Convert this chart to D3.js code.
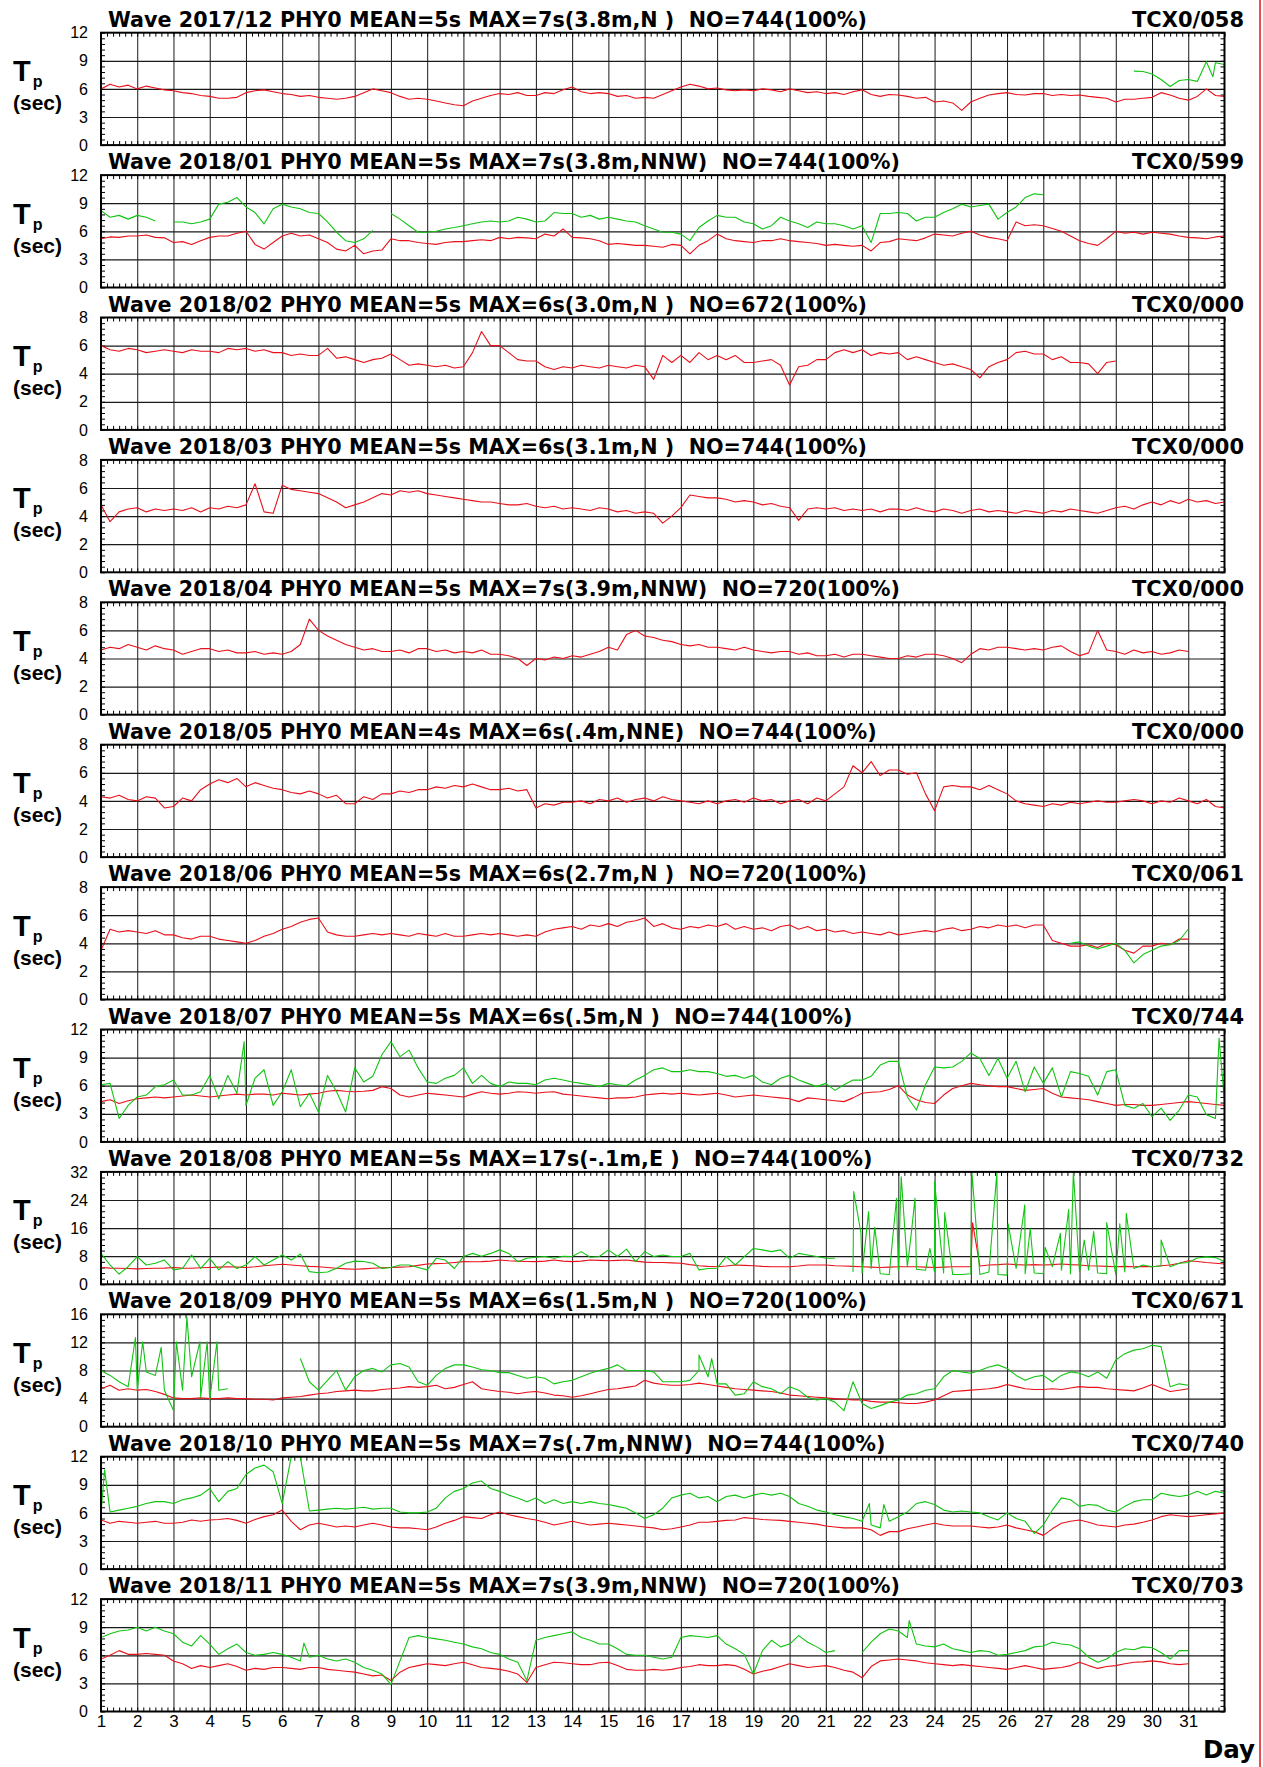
<!DOCTYPE html>
<html><head><meta charset="utf-8">
<script src="https://cdn.jsdelivr.net/npm/d3@7"></script>
<style>body{margin:0;background:#fff}svg{display:block}</style>
</head><body>
<svg id="c" width="1263" height="1767"></svg>
<script>
// ---------------- DATA ----------------
const titles = [
 "Wave 2017/12 PHY0 MEAN=5s MAX=7s(3.8m,N )  NO=744(100%)",
 "Wave 2018/01 PHY0 MEAN=5s MAX=7s(3.8m,NNW)  NO=744(100%)",
 "Wave 2018/02 PHY0 MEAN=5s MAX=6s(3.0m,N )  NO=672(100%)",
 "Wave 2018/03 PHY0 MEAN=5s MAX=6s(3.1m,N )  NO=744(100%)",
 "Wave 2018/04 PHY0 MEAN=5s MAX=7s(3.9m,NNW)  NO=720(100%)",
 "Wave 2018/05 PHY0 MEAN=4s MAX=6s(.4m,NNE)  NO=744(100%)",
 "Wave 2018/06 PHY0 MEAN=5s MAX=6s(2.7m,N )  NO=720(100%)",
 "Wave 2018/07 PHY0 MEAN=5s MAX=6s(.5m,N )  NO=744(100%)",
 "Wave 2018/08 PHY0 MEAN=5s MAX=17s(-.1m,E )  NO=744(100%)",
 "Wave 2018/09 PHY0 MEAN=5s MAX=6s(1.5m,N )  NO=720(100%)",
 "Wave 2018/10 PHY0 MEAN=5s MAX=7s(.7m,NNW)  NO=744(100%)",
 "Wave 2018/11 PHY0 MEAN=5s MAX=7s(3.9m,NNW)  NO=720(100%)"
];
const tcxLabels = ["TCX0/058","TCX0/599","TCX0/000","TCX0/000","TCX0/000","TCX0/000",
                   "TCX0/061","TCX0/744","TCX0/732","TCX0/671","TCX0/740","TCX0/703"];
const yTicks = [
 [0,3,6,9,12],[0,3,6,9,12],[0,2,4,6,8],[0,2,4,6,8],[0,2,4,6,8],[0,2,4,6,8],
 [0,2,4,6,8],[0,3,6,9,12],[0,8,16,24,32],[0,4,8,12,16],[0,3,6,9,12],[0,3,6,9,12]
];
const dayLabels = [1,2,3,4,5,6,7,8,9,10,11,12,13,14,15,16,17,18,19,20,21,22,23,24,25,26,27,28,29,30,31];
const stepDays = 0.25; // one value every 6 hours

// Red = Tp series (one value per 6 h, starting day 1 00h)
const red1712 = [
6.0,6.5,6.2,6.4, 6.0,6.3,6.1,5.9, 5.8,5.6,5.5,5.3, 5.2,5.0,5.0,5.1, 5.6,5.8,5.9,5.7,
5.5,5.4,5.2,5.3, 5.1,5.0,4.9,5.0, 5.2,5.6,6.0,5.8, 5.6,5.2,4.9,5.0, 4.9,4.7,4.5,4.3,
4.2,4.7,5.0,5.3, 5.5,5.4,5.6,5.3, 5.3,5.6,5.5,5.9, 6.2,5.7,5.5,5.6, 5.5,5.2,5.3,5.0,
5.1,5.0,5.4,5.8, 6.2,6.5,6.3,6.0, 6.1,5.9,5.8,5.9, 5.8,6.0,5.9,5.7, 6.0,5.8,5.6,5.7,
5.5,5.6,5.4,5.7, 5.9,5.4,5.2,5.4, 5.35,5.2,5.0,5.1, 4.6,4.7,4.5,3.7, 4.6,5.0,5.35,5.5,
5.6,5.4,5.35,5.5, 5.5,5.3,5.4,5.3, 5.35,5.2,5.1,5.0, 4.6,4.9,4.9,5.0, 5.1,5.6,5.35,5.0,
4.8,5.2,6.0,5.3, 5.2];
const red1801 = [
5.2,5.4,5.35,5.5, 5.5,5.6,5.35,5.3, 4.8,4.9,4.6,5.0, 5.35,5.5,5.5,5.8, 6.0,4.6,4.1,4.8,
5.5,5.8,5.5,5.6, 5.2,4.8,4.1,3.9, 4.5,3.6,3.9,4.0, 5.2,5.0,5.0,4.8, 4.7,4.6,4.8,4.9,
4.9,5.0,5.1,5.0, 5.35,5.2,5.35,5.3, 5.2,5.7,5.5,6.25, 5.35,5.3,5.2,5.0, 4.6,4.7,4.6,4.5,
4.5,4.4,4.3,4.6, 4.5,3.6,4.5,5.0, 5.7,5.2,5.0,4.9, 4.8,5.0,5.0,5.2, 5.0,4.9,4.8,4.7,
4.5,4.6,4.5,4.4, 4.5,3.9,4.8,4.9, 5.2,5.1,5.0,5.3, 5.7,5.6,5.5,5.8, 6.0,5.6,5.35,5.2,
5.0,7.0,6.6,6.7, 6.6,6.3,6.0,5.5, 5.0,4.7,4.5,5.2, 6.0,5.8,5.9,5.7, 5.9,5.8,5.7,5.5,
5.35,5.3,5.2,5.4, 5.5];
const red1802 = [
6.0,5.7,5.6,5.8, 5.7,5.5,5.6,5.7, 5.6,5.5,5.7,5.6, 5.6,5.5,5.8,5.7, 5.8,5.6,5.7,5.5,
5.5,5.3,5.4,5.3, 5.3,5.8,5.1,5.2, 5.0,4.8,5.0,5.1, 5.4,5.0,4.6,4.7, 4.6,4.5,4.6,4.4,
4.5,5.5,7.0,6.0, 6.0,5.5,5.0,4.9, 4.9,4.5,4.3,4.5, 4.4,4.6,4.5,4.4, 4.6,4.5,4.4,4.6,
4.5,3.6,5.3,4.8, 5.3,4.8,5.5,5.0, 5.3,5.0,5.3,4.8, 4.8,4.9,5.0,4.6, 3.2,4.5,4.6,5.0,
5.0,5.5,5.7,5.5, 5.7,5.3,5.5,5.4, 5.5,5.0,5.2,5.0, 4.8,4.6,4.7,4.5, 4.3,3.7,4.5,4.8,
5.0,5.5,5.6,5.4, 5.4,5.0,5.2,4.8, 4.8,4.7,4.0,4.8, 4.9];
const red1803 = [
4.8,3.6,4.3,4.5, 4.6,4.3,4.5,4.4, 4.5,4.4,4.6,4.3, 4.6,4.5,4.7,4.6, 4.8,6.3,4.3,4.2,
6.2,5.9,5.8,5.7, 5.6,5.3,5.0,4.6, 4.8,5.0,5.3,5.6, 5.5,5.8,5.7,5.8, 5.6,5.5,5.4,5.3,
5.2,5.1,5.0,5.0, 4.9,4.8,4.8,4.9, 4.7,4.6,4.7,4.5, 4.6,4.5,4.4,4.6, 4.5,4.3,4.4,4.2,
4.3,4.2,3.5,4.0, 4.6,5.5,5.4,5.3, 5.3,5.2,5.0,5.1, 5.0,4.8,4.9,4.7, 4.6,3.7,4.5,4.6,
4.5,4.6,4.4,4.5, 4.4,4.5,4.3,4.5, 4.5,4.4,4.6,4.4, 4.3,4.5,4.4,4.2, 4.4,4.5,4.3,4.4,
4.3,4.2,4.4,4.3, 4.2,4.4,4.3,4.5, 4.4,4.3,4.2,4.4, 4.6,4.7,4.5,4.8, 5.0,4.8,5.1,4.9,
5.2,5.0,5.1,4.9, 5.0];
const red1804 = [
4.6,4.8,4.7,5.0, 4.8,4.6,4.9,4.7, 4.6,4.3,4.5,4.7, 4.7,4.5,4.6,4.4, 4.4,4.5,4.3,4.4,
4.3,4.5,5.0,6.8, 6.0,5.6,5.3,5.0, 4.8,4.6,4.7,4.5, 4.5,4.6,4.4,4.7, 4.7,4.5,4.6,4.4,
4.5,4.4,4.6,4.3, 4.3,4.2,4.0,3.5, 4.0,3.9,4.1,4.0, 4.2,4.1,4.3,4.5, 4.8,4.6,5.7,6.0,
5.6,5.5,5.3,5.2, 5.0,4.9,5.0,4.8, 4.8,4.7,4.6,4.8, 4.6,4.5,4.4,4.5, 4.5,4.3,4.4,4.2,
4.2,4.3,4.1,4.3, 4.3,4.2,4.1,4.0, 4.0,4.2,4.1,4.3, 4.3,4.2,4.0,3.7, 4.3,4.7,4.6,4.8,
4.8,4.7,4.6,4.7, 4.6,4.8,4.9,4.5, 4.2,4.4,6.0,4.6, 4.5,4.3,4.6,4.4, 4.5,4.3,4.4,4.6,
4.5];
const red1805 = [
4.3,4.2,4.4,4.1, 4.0,4.3,4.2,3.5, 3.6,4.2,4.0,4.8, 5.2,5.5,5.3,5.6, 5.0,5.3,5.1,4.9,
4.8,4.6,4.5,4.7, 4.5,4.2,4.4,3.8, 3.8,4.3,4.1,4.5, 4.5,4.7,4.6,4.8, 4.8,5.0,4.9,5.1,
5.0,5.2,5.0,4.8, 4.8,4.9,4.7,4.8, 3.5,3.8,3.7,3.9, 3.9,4.0,3.8,4.1, 4.0,4.2,3.9,4.1,
4.2,4.0,4.3,4.1, 4.0,3.9,3.8,4.0, 3.8,4.0,4.1,3.9, 4.2,4.0,4.1,3.8, 4.0,4.1,3.8,4.2,
4.0,4.5,5.0,6.5, 6.0,6.8,5.8,6.2, 6.2,5.9,6.0,4.5, 3.3,5.0,5.1,5.0, 5.0,4.8,5.1,4.8,
4.5,4.0,3.8,3.7, 3.6,3.8,3.7,3.9, 3.8,3.9,4.0,3.9, 3.9,4.0,4.1,4.0, 3.8,4.0,3.9,4.2,
4.0,3.8,4.1,3.6, 3.5];
const red1806 = [
3.5,5.0,4.8,4.9, 4.8,4.7,4.9,4.6, 4.6,4.4,4.3,4.5, 4.5,4.3,4.2,4.1, 4.0,4.2,4.5,4.7,
5.0,5.2,5.5,5.7, 5.8,4.8,4.6,4.5, 4.5,4.6,4.7,4.6, 4.7,4.6,4.5,4.7, 4.6,4.5,4.7,4.5,
4.5,4.6,4.7,4.6, 4.7,4.6,4.5,4.6, 4.5,4.8,5.0,5.1, 5.2,5.0,5.3,5.2, 5.4,5.2,5.5,5.6,
5.8,5.2,5.4,5.1, 5.0,5.2,5.1,5.3, 5.2,5.4,5.0,5.2, 5.0,5.1,4.9,5.2, 5.3,5.0,5.2,4.9,
5.0,4.8,4.9,4.7, 4.8,4.7,4.6,4.8, 4.6,4.7,4.8,4.9, 4.8,5.0,5.1,4.9, 5.0,5.2,5.1,5.3,
5.2,5.3,5.1,5.3, 5.3,4.2,4.0,3.8, 3.8,3.9,3.7,4.0, 3.9,3.5,3.3,3.8, 3.8,4.0,3.9,4.3,
4.3];
const red1807 = [
4.3,4.5,4.1,4.4, 4.6,4.7,4.8,4.7, 4.8,4.9,5.0,4.9, 4.8,4.9,5.0,5.1, 5.0,5.1,5.1,5.0,
5.2,5.1,5.0,5.1, 5.2,5.4,5.5,5.4, 5.35,5.4,5.5,5.9, 5.7,5.0,4.8,5.0, 5.2,5.1,5.0,4.9,
4.8,5.1,5.35,5.2, 5.1,5.2,5.35,5.3, 5.2,5.3,5.35,5.1, 5.0,4.9,4.8,4.7, 4.6,4.7,4.7,4.8,
5.0,5.1,5.2,5.1, 5.2,5.1,5.0,5.1, 5.2,5.0,4.8,4.9, 5.0,4.9,4.8,4.7, 4.6,4.3,4.7,4.6,
4.5,4.4,4.3,4.7, 5.2,5.3,5.35,5.6, 6.0,5.0,4.5,4.2, 4.1,5.0,5.7,6.0, 6.25,6.1,6.0,5.9,
5.9,5.7,5.5,5.6, 5.7,5.2,4.8,4.7, 4.6,4.5,4.3,4.1, 3.9,4.0,4.0,3.9, 3.9,4.0,4.1,4.2,
4.3,4.2,4.1,4.0, 3.9];
const red1808 = [
4.8,4.6,4.55,4.5, 4.4,4.5,4.55,4.6, 4.8,4.6,4.55,4.7, 4.8,4.9,5.0,4.9, 4.8,5.0,5.3,5.5,
5.7,5.5,5.3,5.1, 5.0,4.8,4.55,4.4, 4.3,4.4,4.55,4.7, 4.8,4.9,5.0,5.4, 5.8,5.9,6.0,6.2,
6.45,6.4,6.45,6.6, 6.9,6.7,6.6,6.5, 6.45,6.6,6.9,6.6, 6.45,6.6,6.9,6.8, 6.7,6.8,6.9,6.6,
6.3,6.2,6.2,6.1, 6.0,5.6,5.3,5.1, 5.0,5.2,5.5,5.4, 5.3,5.1,5.0,5.0, 5.0,5.2,5.5,5.5,
5.5,5.3,5.2,5.1, 5.0,4.9,4.8,4.9, 5.0,5.0,5.0,4.9, 4.8,4.9,5.0,5.0, 5.0,5.2,5.5,5.6,
5.8,5.6,5.5,5.6, 5.5,5.6,5.8,5.6, 5.5,5.3,5.2,5.1, 5.0,5.1,5.0,5.1, 5.0,5.3,5.5,6.0,
6.7,6.5,6.2,6.0, 5.8];
const red1809 = [
5.4,5.9,5.2,5.4, 5.2,5.3,5.0,4.6, 4.1,4.0,4.0,4.1, 4.0,4.0,4.1,4.0, 4.0,3.9,3.9,3.8,
4.1,4.2,4.3,4.5, 4.7,4.8,5.0,5.1, 5.2,5.1,5.1,5.3, 5.4,5.5,5.7,5.6, 5.7,5.9,5.4,5.6,
6.0,6.4,5.4,5.2, 5.0,4.9,4.7,4.9, 5.0,4.8,4.5,4.4, 4.2,4.4,4.7,5.0, 5.3,5.4,5.6,5.8,
6.6,6.2,6.0,5.9, 5.9,6.0,6.2,6.0, 5.8,5.6,5.4,5.3, 5.2,5.1,5.0,4.8, 4.5,4.4,4.3,4.2,
4.1,4.0,3.9,3.8, 3.8,3.6,3.5,3.5, 3.4,3.3,3.3,3.5, 3.8,4.4,5.0,5.1, 5.2,5.3,5.4,5.6,
6.0,5.7,5.4,5.3, 5.3,5.4,5.3,5.5, 5.7,5.6,5.6,5.4, 5.3,5.2,5.1,5.5, 6.0,5.5,5.0,5.2,
5.4];
const red1810 = [
5.25,4.9,5.1,5.0, 4.9,5.0,5.1,4.9, 4.9,5.0,5.25,5.1, 5.25,5.3,5.4,5.2, 4.9,5.3,5.6,5.8,
6.3,5.1,4.2,4.7, 4.9,4.7,4.5,4.6, 4.5,4.7,4.9,4.7, 4.5,4.4,4.4,4.3, 4.2,4.5,4.9,5.2,
5.6,5.5,5.4,5.8, 6.1,5.8,5.6,5.4, 5.25,5.0,4.7,4.9, 5.1,4.9,4.7,4.8, 4.9,4.8,4.7,4.6,
4.5,4.4,4.2,4.3, 4.5,4.7,5.0,5.0, 5.1,5.2,5.25,5.5, 5.4,5.3,5.25,5.2, 5.1,5.0,4.9,4.8,
4.6,4.5,4.4,4.4, 4.4,4.2,3.6,4.0, 4.0,4.3,4.5,4.7, 4.9,4.7,4.6,4.6, 4.6,4.5,4.4,4.5,
4.7,4.4,4.2,4.0, 3.6,4.3,4.9,5.1, 5.25,5.0,4.7,4.6, 4.5,4.7,4.8,5.0, 5.25,5.6,5.8,5.7,
5.6,5.7,5.8,5.9, 6.0];
const red1811 = [
5.6,6.0,6.5,6.1, 6.1,6.2,6.1,6.0, 5.4,5.1,4.6,4.9, 4.7,4.9,5.1,4.8, 4.4,4.6,4.5,4.7,
4.7,4.6,4.5,4.7, 4.7,4.5,4.4,4.3, 4.2,4.0,3.8,3.9, 3.3,4.2,4.7,4.9, 5.1,5.0,4.9,5.1,
5.25,5.0,4.7,4.6, 4.5,4.3,4.0,3.1, 4.7,5.0,5.25,5.2, 5.1,5.0,5.0,5.2, 5.25,4.9,4.5,4.4,
4.4,4.5,4.4,4.5, 4.7,4.8,5.0,4.9, 4.9,5.0,4.9,4.5, 4.0,4.3,4.5,4.8, 5.1,4.9,4.7,4.8,
4.9,4.7,4.4,4.2, 3.6,4.8,5.4,5.5, 5.6,5.5,5.4,5.2, 5.1,5.0,4.9,5.0, 4.9,4.8,4.7,4.6,
4.5,4.7,4.9,4.7, 4.5,4.6,4.7,4.9, 5.25,4.9,4.6,4.8, 4.9,5.1,5.25,5.3, 5.4,5.3,5.1,5.0,
5.1];

// Green = second Tp series (null = no data)
const green1712 = [7.9,7.85,7.6,7.0,6.25,6.9,7.0,6.8,8.9,8.8,8.6];
const green1801 = [
8.2,7.5,7.7,7.3, 7.7,7.5,7.1,null, 7.0,7.0,6.8,7.0, 7.3,8.9,9.1,9.6, 8.6,8.0,6.8,8.4,
8.9,8.6,8.4,8.0, 7.9,7.0,5.9,5.0, 4.8,5.2,6.1,null, 7.9,7.3,6.6,5.9, 5.9,6.0,6.25,6.4,
6.6,6.8,7.0,7.1, 7.0,7.1,7.5,7.3, 7.0,7.1,8.0,7.9, 7.9,7.5,7.7,7.3, 7.5,7.3,7.1,7.0,
6.6,6.25,5.9,5.9, 5.7,5.0,6.4,7.1, 7.7,7.5,7.5,7.0, 6.8,6.25,6.6,7.5, 7.1,6.8,6.4,7.0,
6.8,6.8,6.6,6.25, 6.6,4.8,7.9,7.9, 8.0,7.9,7.1,7.5, 7.5,8.0,8.4,8.9, 8.6,8.75,8.9,7.3,
8.0,8.6,9.6,10.0, 9.9];
const green1806 = [4.0,4.1,3.8,3.6,3.8,4.0,3.5,2.6,3.2,3.5,3.8,3.9,4.2,5.0];
const green1807 = [
6.1,6.25,2.5,3.9, 4.8,5.0,5.9,6.1, 6.6,5.0,5.0,5.35, 7.1,4.6,7.1,5.2, 3.9,6.8,7.7,3.9,
5.35,7.7,3.75,5.2, 3.2,7.1,5.35,3.2, 7.9,6.4,7.0,9.3, 10.7,9.1,9.8,7.9, 6.4,6.25,6.8,7.1,
7.9,6.25,7.1,6.25, 5.9,6.4,6.25,6.25, 6.1,6.6,6.8,6.6, 6.4,6.25,6.1,5.9, 6.25,6.1,6.0,6.6,
7.1,7.7,7.9,7.5, 7.5,7.7,7.5,7.5, 7.3,7.0,7.1,6.8, 7.1,6.4,6.1,6.8, 7.1,6.6,6.25,5.9,
6.25,5.5,6.1,6.6, 6.6,7.0,8.2,8.6, 8.6,4.8,3.4,6.1, 8.0,7.9,8.0,8.6, 9.5,8.9,7.1,8.9,
6.8,8.6,5.35,8.0, 6.25,7.9,4.8,7.5, 7.3,7.0,5.0,7.5, 7.7,3.9,3.6,4.1, 2.7,3.6,2.3,3.4,
5.0,4.8,2.9,2.5, 4.3];
const green1808 = [
8.8,5.5,2.9,5.0, 7.9,5.5,6.0,6.9, 4.1,4.5,8.35,4.55, 7.4,4.1,6.45,4.5, 5.5,7.9,5.5,6.9,
8.35,6.9,8.6,3.6, 3.3,3.5,4.55,6.0, 6.6,6.5,6.0,4.5, 4.8,5.5,5.5,4.8, 4.1,7.4,6.9,4.5,
7.9,8.8,8.0,8.8, 9.8,8.8,6.45,7.4, 7.7,7.9,7.4,8.0, 7.9,9.3,7.7,7.9, 9.8,7.9,10.0,6.45,
9.3,7.9,8.35,7.9, 7.9,8.8,4.1,4.5, 4.55,7.9,5.5,7.9, 10.2,9.8,9.3,9.8, 7.4,8.8,8.35,7.9,
7.4,7.4,null,3.5, 3.2,4.5,3.0,2.8, 4.0,5.0,4.3,4.0, 3.5,3.2,2.8,2.8, 3.0,2.8,3.5,2.8,
2.6,4.5,3.0,3.2, 3.0,5.0,4.0,3.0, 3.5,4.0,3.2,3.0, 2.8,3.5,4.5,5.5, 5.0,5.2,5.0,6.0,
6.2,7.5,7.8,7.6, 6.5];
const green1809 = [
8.0,7.3,6.4,5.7, 5.2,7.8,7.3,5.2, 2.3,5.2,7.1,4.2, 3.8,5.2,5.4,null, null,null,null,null,
null,null,9.7,6.4, 5.2,6.6,8.0,5.2, 7.1,8.0,8.3,7.8, 8.8,9.0,8.5,6.4, 5.9,7.3,8.3,8.8,
8.8,8.5,8.1,8.0, 7.7,7.7,7.3,6.9, 7.1,6.9,6.1,6.4, 6.6,7.1,7.6,8.0, 8.3,8.8,8.0,8.0,
8.0,7.8,6.4,6.4, 6.4,6.6,8.0,7.1, 6.1,6.1,4.5,4.7, 6.4,5.7,5.4,4.7, 5.7,5.2,4.2,3.8,
4.0,3.5,2.3,6.4, 3.3,2.6,3.0,3.5, 3.8,4.5,4.7,5.2, 5.4,7.1,8.0,7.8, 7.6,8.0,8.5,8.8,
8.3,7.3,6.6,7.1, 7.3,6.4,7.3,7.8, 7.6,7.1,7.8,6.9, 9.5,10.4,10.9,11.1, 11.6,11.4,5.7,6.1,
5.9];
const green1810 = [
6.0,6.1,6.3,6.5, 6.7,7.0,7.2,7.2, 7.0,7.4,7.6,7.9, 8.6,7.2,8.3,8.6, 10.1,10.8,11.1,10.4,
7.0,12.0,12.0,6.2, 6.3,6.4,6.5,6.4, 6.5,6.6,6.4,6.5, 6.5,6.1,6.0,6.0, 6.1,6.5,7.6,8.3,
8.6,9.2,9.4,8.6, 8.3,7.9,7.6,7.2, 7.6,7.0,7.4,7.0, 7.2,7.0,7.2,7.0, 6.9,6.7,6.5,6.0,
5.4,5.8,6.5,7.6, 7.9,8.1,7.6,7.75, 7.2,7.75,7.9,7.6, 7.9,8.1,7.9,8.1, 7.75,7.0,6.7,6.3,
6.1,5.8,5.6,5.4, 5.1,4.7,4.4,5.1, 5.6,6.1,7.0,7.2, 6.9,6.3,6.1,6.2, 6.1,6.0,5.6,5.25,
6.0,5.4,5.1,3.8, 4.7,6.3,7.6,7.4, 6.7,6.9,6.8,6.3, 6.1,6.7,7.2,7.4, 7.4,8.1,7.9,7.75,
7.9,8.3,7.9,8.3, 8.1];
const green1811 = [
7.9,8.3,8.6,8.7, 9.0,8.6,9.0,8.6, 8.3,7.4,7.0,8.1, 7.2,6.1,6.7,7.2, 6.3,6.0,6.1,6.3,
6.1,5.8,5.4,5.8, 6.0,5.6,5.4,5.6, 5.25,4.7,4.4,4.0, 2.9,5.4,7.9,8.1, 7.9,7.75,7.6,7.4,
7.2,6.9,6.7,6.3, 6.1,5.6,5.25,3.3, 7.6,7.9,8.1,8.3, 8.5,7.9,7.6,7.2, 7.2,6.7,6.1,6.0,
6.0,5.8,5.6,5.8, 7.9,8.1,8.0,7.9, 8.1,7.2,6.7,6.1, 4.0,6.5,7.6,6.9, 7.2,8.1,7.4,6.9,
6.3,6.5,null,null, 6.3,7.4,8.3,8.8, 8.6,7.9,7.2,7.0, 6.9,7.2,6.7,6.5, 6.3,6.5,6.4,6.0,
6.1,6.3,6.5,6.9, 7.0,7.4,7.2,7.1, 6.7,5.8,5.25,5.6, 6.3,6.7,6.6,6.9, 6.8,6.3,5.6,6.5,
6.5];

// Short single-hour peaks: [day, value]
const spikes1712G = [[31.68, 7.3]];
const spikes1807G = [[4.95, 10.7], [31.85, 11.1]];
const spikes1808G = [[21.77,26.4],[21.97,14.5],[22.18,20.7],[22.35,16.2],[22.95,24.5],[23.08,30.6],
 [23.36,14.7],[23.46,24.5],[23.87,10.2],[24.0,29.2],[24.28,20.4],[25.03,32],[25.72,32],[26.03,17.2],
 [26.49,22.6],[26.64,15.9],[27.05,10.5],[27.47,14.5],[27.70,21.3],[27.83,32],[28.13,12.6],[28.39,15.0],
 [28.75,17.6],[29.11,17.2],[29.29,20.2],[30.25,12.6]];
const spikes1808R = [[25.05, 17.5]];
const spikes1809G = [[1.95,12.7],[2.15,12.1],[2.66,11.3],[3.08,12.1],[3.37,15.6],[3.73,12.1],[3.93,12.1],
 [4.2,12.1],[17.5,10.2],[17.85,9.7]];
const spikes1810G = [[1.1,10.6],[22.2,7.0],[22.6,6.9]];
const spikes1811G = [[23.3,9.7],[6.6,7.3]];

const redSeries   = [red1712,red1801,red1802,red1803,red1804,red1805,red1806,red1807,red1808,red1809,red1810,red1811];
const redSpikes   = [[],[],[],[],[],[],[],[],spikes1808R,[],[],[]];
const greenSeries = [green1712,green1801,null,null,null,null,green1806,green1807,green1808,green1809,green1810,green1811];
const greenStart  = [29.5,1,null,null,null,null,27.75,1,1,1,1,1];
const greenSpikes = [spikes1712G,[],[],[],[],[],[],spikes1807G,spikes1808G,spikes1809G,spikes1810G,spikes1811G];

// ---------------- DRAW ----------------
const FONT = "'Liberation Sans', Arial, Helvetica, sans-serif";
const TFONT = "'DejaVu Sans', Verdana, sans-serif";
const svg = d3.select("#c").style("font-family", FONT);
const L = 101, R = 1224.5, T0 = 32.7, GAP = 142.4, H = 112.4;
const x = d3.scaleLinear().domain([1, 32]).range([L, R]);
const minorX = d3.range(0, 31*6 + 1).map(k => 1 + k/6);
const dayGrid = dayLabels.slice(1);

function toPoints(values, start, spikes) {
  const pts = values.map((v, k) => [start + k*stepDays, v]);
  spikes.forEach(s => pts.push(s));
  pts.sort((a, b) => a[0] - b[0]);
  return pts;
}
function strip(sel) { sel.select(".domain").remove(); }

svg.append("rect").attr("width",1263).attr("height",1767).attr("fill","#fff");

titles.forEach((t, i) => {
  const top = T0 + i*GAP, bot = top + H;
  const ticks = yTicks[i];
  const ymax = ticks[ticks.length-1];
  const y = d3.scaleLinear().domain([0, ymax]).range([bot, top]);
  const minorStep = (ticks[1]-ticks[0]) / 5;
  const minorY = d3.range(0, 21).map(k => k*minorStep);
  const g = svg.append("g");

  // title + station
  g.append("text").attr("x",108).attr("y",top-6).attr("font-size",20.7).attr("font-weight","bold")
    .attr("font-family",TFONT).attr("xml:space","preserve").style("white-space","pre").text(t);
  g.append("text").attr("x",1244).attr("y",top-6).attr("font-size",21).attr("font-weight","bold")
    .attr("font-family",TFONT).attr("text-anchor","end").text(tcxLabels[i]);

  // y label Tp (sec) as one text element
  const yl = g.append("text").attr("x",13).attr("y",top+48.5).attr("font-weight","bold");
  yl.append("tspan").attr("font-size",29).text("T");
  yl.append("tspan").attr("font-size",16).attr("dx",2).attr("dy",6).text("p");
  yl.append("tspan").attr("font-size",21).attr("x",13).attr("dy",23).text("(sec)");

  // vertical day gridlines
  g.append("g").attr("transform",`translate(0,${bot})`)
    .call(d3.axisBottom(x).tickValues(dayGrid).tickSize(-H).tickFormat(""))
    .call(strip).selectAll("line").attr("stroke","#1a1a1a").attr("stroke-width",1);
  // horizontal gridlines
  g.append("g").attr("transform",`translate(${L},0)`)
    .call(d3.axisLeft(y).tickValues(ticks.slice(1,-1)).tickSize(-(R-L)).tickFormat(""))
    .call(strip).selectAll("line").attr("stroke","#1a1a1a").attr("stroke-width",1.2);

  // minor ticks (inward)
  g.append("g").attr("transform",`translate(0,${top})`)
    .call(d3.axisTop(x).tickValues(minorX).tickSize(-4).tickFormat("")).call(strip)
    .selectAll("line").attr("stroke","#000");
  g.append("g").attr("transform",`translate(0,${bot})`)
    .call(d3.axisBottom(x).tickValues(minorX).tickSize(-4).tickFormat("")).call(strip)
    .selectAll("line").attr("stroke","#000");
  g.append("g").attr("transform",`translate(${L},0)`)
    .call(d3.axisLeft(y).tickValues(minorY).tickSize(-4).tickFormat("")).call(strip)
    .selectAll("line").attr("stroke","#000");
  g.append("g").attr("transform",`translate(${R},0)`)
    .call(d3.axisRight(y).tickValues(minorY).tickSize(-4).tickFormat("")).call(strip)
    .selectAll("line").attr("stroke","#000");

  // y tick labels
  const ya = g.append("g").attr("transform",`translate(${L},0)`)
    .call(d3.axisLeft(y).tickValues(ticks).tickSize(0).tickPadding(13).tickFormat(d3.format("d")))
    .call(strip);
  ya.selectAll("text").attr("font-size",16).attr("font-family",FONT).attr("fill","#000");

  // clip
  svg.append("clipPath").attr("id","clip"+i).append("rect")
    .attr("x",L).attr("y",top).attr("width",R-L).attr("height",H);

  const line = d3.line().defined(d => d[1] !== null).x(d => x(d[0])).y(d => y(d[1]));
  const lines = g.append("g").attr("clip-path",`url(#clip${i})`);
  lines.append("path").datum(toPoints(redSeries[i], 1, redSpikes[i]))
    .attr("d", line).attr("fill","none").attr("stroke","#e8101a").attr("stroke-width",1.1)
    .attr("stroke-linejoin","round");
  if (greenSeries[i]) {
    lines.append("path").datum(toPoints(greenSeries[i], greenStart[i], greenSpikes[i]))
      .attr("d", line).attr("fill","none").attr("stroke","#12c412").attr("stroke-width",1.1)
      .attr("stroke-linejoin","round");
  }

  // frame
  g.append("rect").attr("x",L).attr("y",top).attr("width",R-L).attr("height",H)
    .attr("fill","none").attr("stroke","#000").attr("stroke-width",2);

  // bottom day labels on last panel
  if (i === titles.length - 1) {
    const xa = g.append("g").attr("transform",`translate(0,${bot})`)
      .call(d3.axisBottom(x).tickValues(dayLabels).tickSize(0).tickPadding(3).tickFormat(d3.format("d")))
      .call(strip);
    xa.selectAll("text").attr("font-size",17).attr("font-family",FONT).attr("fill","#000");
  }
});

// "Day" axis title
svg.append("text").attr("x",1255).attr("y",1758).attr("text-anchor","end").attr("font-family",TFONT)
  .attr("font-size",24.5).attr("font-weight","bold").text("Day");

// caption (mostly cut off by the page edge in the reference)
svg.append("text").attr("x",266).attr("y",1795).attr("font-size",26)
  .attr("font-family","'Noto Sans CJK TC', sans-serif").attr("fill","#777")
  .attr("xml:space","preserve").style("white-space","pre")
  .text("圖            臺中港 2017年12月至2018年11月 波浪尖峰週期逐時變化圖");

// red page margin line
svg.append("line").attr("x1",1260).attr("x2",1260).attr("y1",0).attr("y2",1767)
  .attr("stroke","#e8101a").attr("stroke-width",1.5);
</script>
</body></html>
